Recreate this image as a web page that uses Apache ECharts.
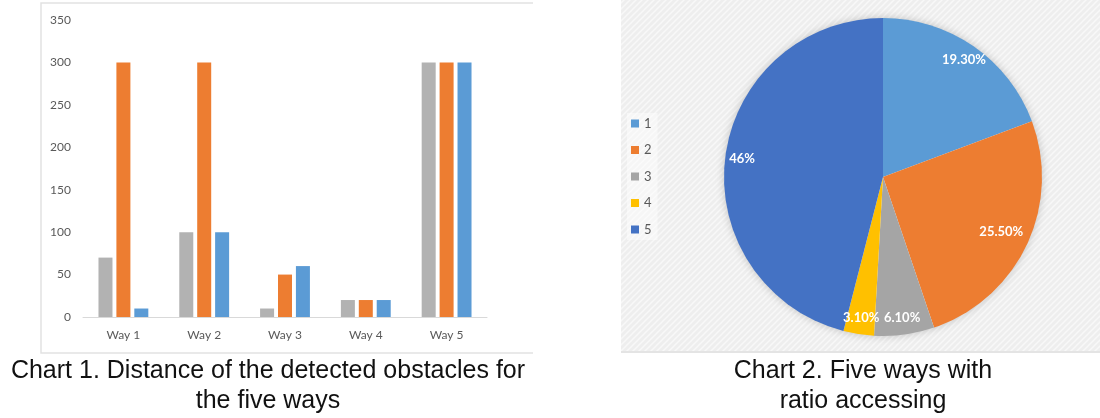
<!DOCTYPE html>
<html>
<head>
<meta charset="utf-8">
<script src="https://cdn.jsdelivr.net/npm/echarts@6/dist/echarts.min.js"></script>
<style>
  html, body { margin: 0; padding: 0; background: #fff; }
  #main { width: 1100px; height: 418px; }
</style>
</head>
<body>
<div id="main"></div>
<script>
// chart 1 : distance per way
var ways = ['Way 1', 'Way 2', 'Way 3', 'Way 4', 'Way 5'];
var grayVals = [70, 100, 10, 20, 300];
var orangeVals = [300, 300, 50, 20, 300];
var blueVals = [10, 100, 60, 20, 300];
var yTicks = [0, 50, 100, 150, 200, 250, 300, 350];

// chart 2 : ratio accessing
var pieNames = ['1', '2', '3', '4', '5'];
var pieShares = [19.3, 25.5, 6.1, 3.1, 46];
var pieLabels = ['19.30%', '25.50%', '6.10%', '3.10%', '46%'];

var pieColors = ['#5B9BD5', '#ED7D31', '#A5A5A5', '#FFC000', '#4472C4'];

// hatch pattern for the pie panel
function hatch() {
	var c = document.createElement('canvas');
	c.width = 6; c.height = 6;
	var ctx = c.getContext('2d');
	ctx.fillStyle = '#eeeeee';
	ctx.fillRect(0, 0, 6, 6);
	ctx.strokeStyle = '#f8f8f8';
	ctx.lineWidth = 1.5;
	ctx.beginPath();
	ctx.moveTo(-1, 7); ctx.lineTo(7, -1);
	ctx.moveTo(-1, 1); ctx.lineTo(1, -1);
	ctx.moveTo(5, 7); ctx.lineTo(7, 5);
	ctx.stroke();
	return c;
}

var pieData = [], labelData = [];
for (var i = 0; i < pieNames.length; i++) {
	pieData.push({ name: pieNames[i], value: pieShares[i], itemStyle: { color: pieColors[i] } });
	var item = { name: pieNames[i], value: pieShares[i] };
	if (i == 1) item.label = { offset: [-10, -6] };  // excel keeps this one a bit inward
	labelData.push(item);
}

var axisText = { color: '#595959', fontSize: 12, fontFamily: 'Lato' };
var lineCol = '#e2e2e2';

var option = {
	backgroundColor: '#fff',
	animation: false,
	grid: { left: 83, right: 613, top: 20, bottom: 101 },
	xAxis: {
		type: 'category',
		data: ways,
		axisLine: { lineStyle: { color: '#d9d9d9' } },
		axisTick: { length: 4, lineStyle: { color: '#d9d9d9' } },
		axisLabel: Object.assign({ margin: 12 }, axisText)
	},
	yAxis: {
		type: 'value',
		min: yTicks[0],
		max: yTicks[yTicks.length - 1],
		interval: 50,
		axisLine: { show: false },
		axisTick: { show: false },
		splitLine: { show: false },
		axisLabel: Object.assign({ margin: 12 }, axisText)
	},
	legend: {
		data: pieNames,
		orient: 'vertical',
		left: 627,
		top: 113,
		icon: 'rect',
		itemWidth: 8,
		itemHeight: 8,
		itemGap: 13.5,
		padding: [4, 6, 4, 4],
		backgroundColor: 'rgba(255,255,255,0.45)',
		textStyle: { color: '#595959', fontSize: 13, fontFamily: 'Lato' }
	},
	series: [
		{ type: 'bar', name: 'gray', data: grayVals, barWidth: 14, barGap: '28%', itemStyle: { color: '#b2b2b2' } },
		{ type: 'bar', name: 'orange', data: orangeVals, barWidth: 14, barGap: '28%', itemStyle: { color: '#ED7D31' } },
		{ type: 'bar', name: 'blue', data: blueVals, barWidth: 14, barGap: '28%', itemStyle: { color: '#5B9BD5' } },
		{
			type: 'pie',
			center: [883, 177],
			radius: 159,
			startAngle: 90,
			clockwise: true,
			label: { show: false },
			labelLine: { show: false },
			emphasis: { disabled: true },
			data: pieData
		},
		{
			// transparent ring only to put the labels near the rim
			type: 'pie',
			center: [883, 177],
			radius: [119, 159],
			startAngle: 90,
			clockwise: true,
			silent: true,
			z: 3,
			itemStyle: { color: 'rgba(0,0,0,0)' },
			emphasis: { disabled: true },
			labelLine: { show: false },
			label: {
				show: true,
				position: 'inside',
				color: '#fff',
				fontSize: 13,
				fontWeight: 'bold',
				fontFamily: 'Lato',
				formatter: function (p) { return pieLabels[p.dataIndex]; }
			},
			data: labelData
		}
	],
	graphic: [
		// frame of chart 1 (no right edge)
		{ type: 'polyline', z: -1, shape: { points: [[533, 3], [41, 3], [41, 353], [533, 353]] },
		  style: { stroke: lineCol, lineWidth: 1.5, fill: null } },
		// panel of chart 2
		{ type: 'rect', z: -2, shape: { x: 621, y: 0, width: 479, height: 353 },
		  style: { fill: { image: hatch(), repeat: 'repeat' } } },
		{ type: 'line', z: -1, shape: { x1: 621, y1: 352, x2: 1100, y2: 352 },
		  style: { stroke: '#e4e4e4', lineWidth: 2 } },
		// soft shadow under the pie
		{ type: 'circle', z: -1, shape: { cx: 883, cy: 177, r: 158 },
		  style: { fill: '#fff', shadowBlur: 10, shadowColor: 'rgba(0,0,0,0.25)' } },
		// captions
		{ type: 'text', x: 268, y: 356,
		  style: { text: 'Chart 1. Distance of the detected obstacles for\nthe five ways', fill: '#111', font: '25px "Liberation Sans"', align: 'center', verticalAlign: 'top', lineHeight: 30 } },
		{ type: 'text', x: 863, y: 356,
		  style: { text: 'Chart 2. Five ways with\nratio accessing', fill: '#111', font: '25px "Liberation Sans"', align: 'center', verticalAlign: 'top', lineHeight: 30 } }
	]
};

var chart = echarts.init(document.getElementById('main'));
chart.setOption(option);
</script>
</body>
</html>
